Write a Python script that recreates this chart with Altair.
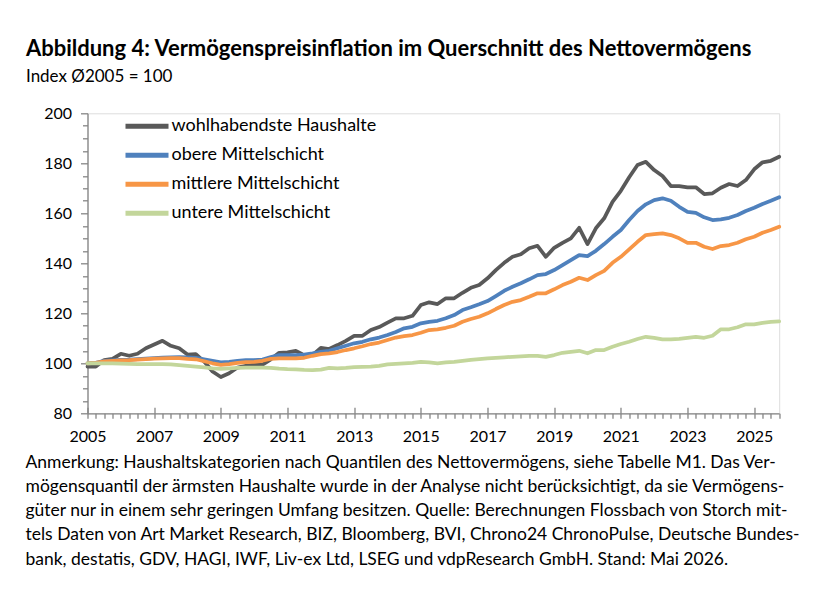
import altair as alt
import pandas as pd

# quarterly time axis 2005Q1 .. 2025Q4
quarters = [2005 + i / 4 for i in range(84)]
year_ticks = list(range(2005, 2026, 2))

series_names = ["wohlhabendste Haushalte", "obere Mittelschicht",
                "mittlere Mittelschicht", "untere Mittelschicht"]
series_colors = ["#595959", "#4F81BD", "#F79646", "#C3D69B"]

wohlhabendste = [
    98.7, 98.7, 101.3, 101.8, 103.8, 103.0, 103.8, 106.0, 107.5, 109.0,
    107.0, 106.0, 103.5, 103.7, 100.7, 96.7, 94.5, 96.0, 98.3, 99.0,
    99.5, 99.5, 101.6, 104.2, 104.4, 105.0, 103.3, 103.3, 106.2, 105.7,
    107.3, 109.0, 111.0, 111.0, 113.3, 114.5, 116.3, 118.0, 118.0, 119.0,
    123.3, 124.4, 123.7, 126.0, 126.0, 128.2, 130.2, 131.3, 134.0, 137.3,
    140.2, 142.6, 143.6, 146.0, 147.0, 142.6, 146.2, 148.2, 150.0, 154.2,
    147.7, 154.0, 158.0, 164.6, 169.0, 174.4, 179.3, 180.6, 177.3, 174.9,
    170.9, 170.9, 170.4, 170.4, 167.7, 168.0, 170.2, 171.7, 170.9, 173.3,
    177.6, 180.4, 181.0, 182.6]

obere = [
    100.0, 100.2, 101.0, 101.2, 101.4, 101.5, 101.7, 101.9, 102.1, 102.3,
    102.4, 102.5, 102.4, 102.2, 101.6, 101.0, 100.4, 100.6, 101.0, 101.3,
    101.3, 101.5, 102.5, 103.3, 103.3, 103.3, 103.5, 104.0, 104.6, 105.0,
    106.0, 107.0, 108.0, 108.6, 109.6, 110.3, 111.3, 112.5, 114.0, 114.6,
    116.0, 116.6, 117.0, 118.0, 119.3, 121.3, 122.4, 123.6, 124.9, 126.9,
    129.0, 130.6, 132.0, 133.6, 135.3, 135.7, 137.3, 139.3, 141.3, 143.3,
    142.9, 145.0, 147.7, 150.6, 153.3, 157.3, 160.9, 163.6, 165.3, 166.0,
    165.0, 162.6, 160.6, 160.2, 158.4, 157.3, 157.6, 158.2, 159.3, 160.9,
    162.2, 163.7, 165.0, 166.4]

mittlere = [
    100.0, 100.2, 100.8, 101.0, 101.2, 101.3, 101.5, 101.7, 101.9, 102.0,
    102.1, 102.1, 101.8, 101.6, 100.8, 100.0, 99.4, 99.7, 100.2, 100.5,
    100.6, 101.0, 101.8, 102.0, 102.0, 102.0, 102.2, 103.0, 103.7, 104.0,
    104.5, 105.3, 106.0, 106.8, 107.7, 108.3, 109.3, 110.3, 110.9, 111.3,
    112.2, 113.3, 113.6, 114.2, 115.0, 116.6, 117.7, 118.6, 120.0, 121.7,
    123.3, 124.6, 125.3, 126.6, 128.0, 128.0, 129.6, 131.3, 132.6, 134.2,
    133.3, 135.3, 137.0, 140.2, 142.6, 145.6, 148.6, 151.3, 151.7, 152.0,
    151.3, 150.0, 148.2, 148.2, 146.6, 145.7, 146.9, 147.3, 148.2, 149.6,
    150.6, 152.2, 153.3, 154.6]

untere = [
    100.0, 100.0, 100.0, 100.0, 99.9, 99.8, 99.7, 99.7, 99.7, 99.7,
    99.6, 99.3, 99.0, 98.7, 98.4, 98.0, 97.8, 98.0, 98.2, 98.3,
    98.3, 98.3, 98.2, 97.9, 97.7, 97.6, 97.4, 97.3, 97.5, 98.2,
    98.0, 98.2, 98.5, 98.6, 98.7, 99.0, 99.6, 99.8, 100.0, 100.2,
    100.6, 100.4, 100.0, 100.4, 100.6, 101.0, 101.4, 101.7, 102.0, 102.2,
    102.4, 102.6, 102.8, 103.0, 103.0, 102.6, 103.3, 104.2, 104.6, 105.0,
    104.0, 105.3, 105.3, 106.6, 107.7, 108.6, 109.7, 110.6, 110.2, 109.6,
    109.6, 109.8, 110.2, 110.6, 110.2, 111.0, 113.6, 113.6, 114.4, 115.6,
    115.6, 116.2, 116.6, 116.8]

title_text = "Abbildung 4: Vermögenspreisinflation im Querschnitt des Nettovermögens"
subtitle_text = "Index Ø2005 = 100"
note_lines = [
    "Anmerkung: Haushaltskategorien nach Quantilen des Nettovermögens, siehe Tabelle M1. Das Ver-",
    "mögensquantil der ärmsten Haushalte wurde in der Analyse nicht berücksichtigt, da sie Vermögens-",
    "güter nur in einem sehr geringen Umfang besitzen. Quelle: Berechnungen Flossbach von Storch mit-",
    "tels Daten von Art Market Research, BIZ, Bloomberg, BVI, Chrono24 ChronoPulse, Deutsche Bundes-",
    "bank, destatis, GDV, HAGI, IWF, Liv-ex Ltd, LSEG und vdpResearch GmbH. Stand: Mai 2026.",
]

rows = []
for name, vals in zip(series_names, [wohlhabendste, obere, mittlere, untere]):
    for t, v in zip(quarters, vals):
        rows.append({"t": t, "value": v, "series": name})
df = pd.DataFrame(rows)

FONT = "Lato"
AXIS_GRAY = "#868686"

x_scale = alt.Scale(domain=[2005, 2025.75], nice=False, zero=False)
y_scale = alt.Scale(domain=[80, 200], nice=False, zero=False)

# main x axis: quarterly ticks, year labels every two years, note as axis title
x_axis_main = alt.Axis(
    orient="bottom",
    values=quarters,
    labelExpr="(datum.value - 2005) % 2 == 0 ? format(datum.value, 'd') : ''",
    tickSize=5,
    tickColor=AXIS_GRAY, domainColor=AXIS_GRAY, tickWidth=1.3, domainWidth=1.3,
    labelFont=FONT, labelFontSize=16, labelColor="black", labelPadding=10,
    labelOverlap=False, labelFlush=False, labelBound=False, grid=False,
    title=note_lines, titleFont=FONT, titleFontSize=17.5, titleFontWeight="normal",
    titleColor="black", titleLineHeight=24.2, titleAlign="left", titleAnchor="start",
    titleBaseline="alphabetic", titleX=-62.5, titleY=54,
)

# inner part of the crossing major ticks (every two years)
x_axis_major = alt.Axis(
    orient="bottom", offset=-6, values=year_ticks, tickSize=6,
    tickColor=AXIS_GRAY, tickWidth=1.3, domain=False, labels=False,
    grid=False, title=None,
)

y_axis = alt.Axis(
    values=list(range(80, 201, 5)),
    labelExpr="datum.value % 20 == 0 ? datum.value : ''",
    tickSize={"condition": {"test": "datum.value % 20 == 0", "value": 7}, "value": 5},
    tickColor=AXIS_GRAY, domainColor=AXIS_GRAY, tickWidth=1.3, domainWidth=1.3,
    labelFont=FONT, labelFontSize=16, labelColor="black", labelPadding=9,
    labelOverlap=False, grid=False, title=None,
)

color_enc = alt.Color(
    "series:N",
    scale=alt.Scale(domain=series_names, range=series_colors),
    legend=alt.Legend(
        orient="none", legendX=35, legendY=1, title=None,
        symbolType="stroke", symbolSize=1850, symbolStrokeWidth=5,
        labelFont=FONT, labelFontSize=18, labelColor="black", labelLimit=400,
        labelOffset=0, clipHeight=24, rowPadding=5,
    ),
)

x_axes = [x_axis_main, x_axis_major, None, None]

layers = []
for name, xa in zip(series_names, x_axes):
    layers.append(
        alt.Chart(df)
        .transform_filter(alt.datum.series == name)
        .mark_line(strokeWidth=3.75, strokeJoin="round", strokeCap="round")
        .encode(
            x=alt.X("t:Q", scale=x_scale, axis=xa),
            y=alt.Y("value:Q", scale=y_scale, axis=y_axis),
            color=color_enc,
        )
    )

chart = alt.layer(*layers).resolve_axis(x="independent").properties(
    width=691.7,
    height=300,
    title=alt.TitleParams(
        text=title_text, subtitle=subtitle_text, anchor="start", frame="group",
        dx=-61.5, offset=19, font=FONT, fontSize=22, fontWeight="bold", color="black",
        subtitleFont=FONT, subtitleFontSize=17, subtitleColor="black", subtitlePadding=8,
    ),
    autosize=alt.AutoSizeParams(type="none"),
    padding={"left": 79.5, "top": 105.3, "right": 40, "bottom": 170},
).configure_view(stroke=None).configure(font=FONT, background="white")

chart.save("out.html", embed_options={"renderer": "svg", "actions": False})
